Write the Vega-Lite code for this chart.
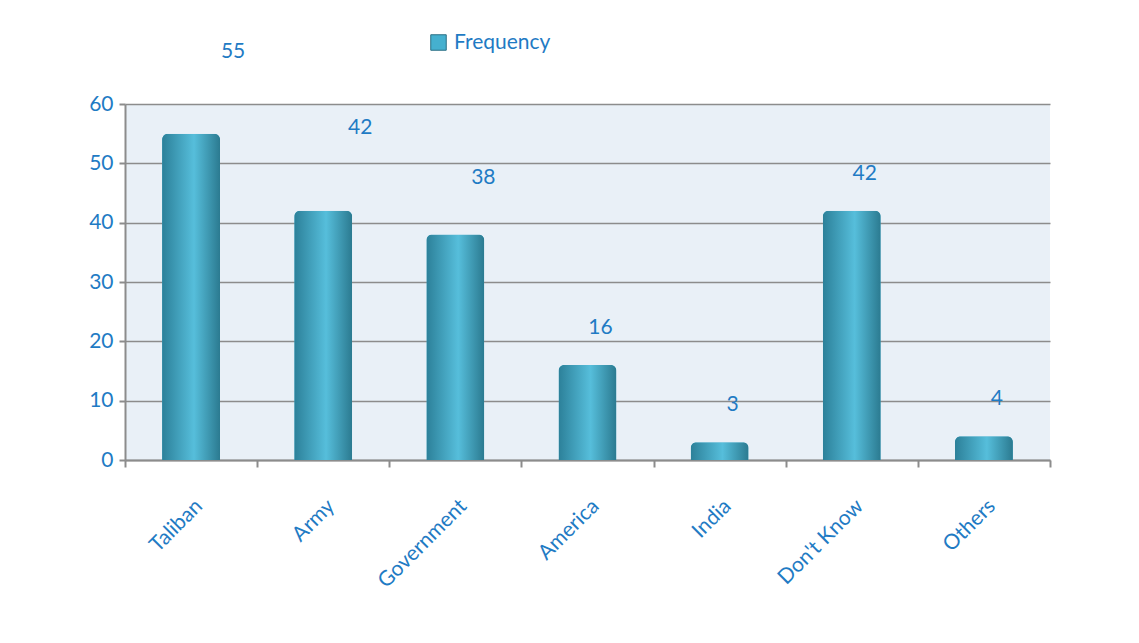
{
  "$schema": "https://vega.github.io/schema/vega-lite/v6.json",
  "autosize": {"type": "none"},
  "width": 925,
  "height": 356,
  "padding": {"left": 125, "top": 104, "right": 89, "bottom": 183},
  "background": "white",
  "data": {"values": [
    {"category": "Taliban", "frequency": 55},
    {"category": "Army", "frequency": 42},
    {"category": "Government", "frequency": 38},
    {"category": "America", "frequency": 16},
    {"category": "India", "frequency": 3},
    {"category": "Don't Know", "frequency": 42},
    {"category": "Others", "frequency": 4}
  ]},
  "config": {
    "font": "Lato",
    "view": {"fill": "#e9f0f7", "stroke": null}
  },
  "encoding": {
    "x": {
      "field": "category", "type": "nominal", "sort": null,
      "scale": {"paddingInner": 0, "paddingOuter": 0},
      "axis": {
        "title": null, "labelAngle": -45, "labelFontSize": 21, "labelColor": "#1f7bc4",
        "tickBand": "extent", "tickColor": "#8c8c8c", "tickSize": 7, "tickWidth": 2,
        "domainColor": "#8c8c8c", "domainWidth": 2, "labelPadding": 28, "grid": false
      }
    },
    "y": {
      "field": "frequency", "type": "quantitative",
      "scale": {"domain": [0, 60]},
      "axis": {
        "title": null, "values": [0, 10, 20, 30, 40, 50, 60], "labelFontSize": 21,
        "labelColor": "#1f7bc4", "tickColor": "#8c8c8c", "tickSize": 6, "tickWidth": 2,
        "domainColor": "#8c8c8c", "domainWidth": 2, "gridColor": "#8c8c8c", "gridWidth": 1.5,
        "labelPadding": 6
      }
    }
  },
  "layer": [
    {
      "mark": {"type": "bar", "size": 58, "cornerRadiusTopLeft": 6, "cornerRadiusTopRight": 6},
      "encoding": {
        "fill": {
          "datum": "Frequency", "type": "nominal",
          "scale": {"range": ["#45b0cf"]},
          "legend": {
            "title": null, "orient": "none", "legendX": 303, "legendY": -72,
            "symbolType": "square", "symbolSize": 240, "symbolStrokeColor": "#2a6f84",
            "symbolStrokeWidth": 1, "labelFontSize": 21, "labelColor": "#1f7bc4", "labelOffset": 5
          }
        }
      }
    },
    {
      "mark": {"type": "bar", "size": 58, "cornerRadiusTopLeft": 6, "cornerRadiusTopRight": 6,
        "color": {"gradient": "linear", "x1": 0, "x2": 1, "y1": 0, "y2": 0,
          "stops": [{"offset": 0, "color": "#2c8099"}, {"offset": 0.55, "color": "#56bedb"}, {"offset": 1, "color": "#2b7a90"}]}},
      "encoding": {}
    },
    {
      "transform": [{"filter": "datum.category === 'Taliban'"}],
      "mark": {"type": "text", "dy": -82, "dx": 42, "fontSize": 21, "color": "#1f7bc4", "baseline": "middle"},
      "encoding": {"text": {"field": "frequency", "type": "quantitative"}}
    },
    {
      "transform": [{"filter": "datum.category === 'Army'"}],
      "mark": {"type": "text", "dy": -83, "dx": 37, "fontSize": 21, "color": "#1f7bc4", "baseline": "middle"},
      "encoding": {"text": {"field": "frequency", "type": "quantitative"}}
    },
    {
      "transform": [{"filter": "datum.category === 'Government'"}],
      "mark": {"type": "text", "dy": -57, "dx": 28, "fontSize": 21, "color": "#1f7bc4", "baseline": "middle"},
      "encoding": {"text": {"field": "frequency", "type": "quantitative"}}
    },
    {
      "transform": [{"filter": "datum.category !== 'Taliban' && datum.category !== 'Army' && datum.category !== 'Government'"}],
      "mark": {"type": "text", "dy": -37, "dx": 13, "fontSize": 21, "color": "#1f7bc4", "baseline": "middle"},
      "encoding": {"text": {"field": "frequency", "type": "quantitative"}}
    }
  ]
}
